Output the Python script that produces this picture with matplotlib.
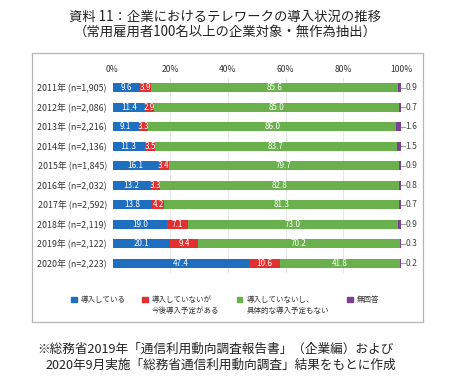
import matplotlib
matplotlib.use("Agg")
import matplotlib.pyplot as plt
from matplotlib.patches import Rectangle

plt.rcParams['font.family'] = ['Noto Sans CJK JP', 'DejaVu Sans']

years = ["2011年 (n=1,905)", "2012年 (n=2,086)", "2013年 (n=2,216)", "2014年 (n=2,136)",
         "2015年 (n=1,845)", "2016年 (n=2,032)", "2017年 (n=2,592)", "2018年 (n=2,119)",
         "2019年 (n=2,122)", "2020年 (n=2,223)"]
adopted = [9.6, 11.4, 9.1, 11.3, 16.1, 13.2, 13.8, 19.0, 20.1, 47.4]
planned = [3.9, 2.9, 3.3, 3.5, 3.4, 3.3, 4.2, 7.1, 9.4, 10.6]
no_plan = [85.6, 85.0, 86.0, 83.7, 79.7, 82.8, 81.3, 73.0, 70.2, 41.8]
no_answer = [0.9, 0.7, 1.6, 1.5, 0.9, 0.8, 0.7, 0.9, 0.3, 0.2]
series_names = ["導入している", "導入していないが\n今後導入予定がある",
                "導入していないし、\n具体的な導入予定もない", "無回答"]
colors = ["#1f6fc1", "#e0302f", "#6ab04c", "#7b3f98"]
ticks = [0, 20, 40, 60, 80, 100]

W, H = 450, 383
fig = plt.figure(figsize=(4.5, 3.83), dpi=100)

def fx(px):
    return px / W

def fy(py):
    return 1 - py / H

# title and source note
fig.text(0.5, fy(17), "資料 11：企業におけるテレワークの導入状況の推移",
         ha="center", va="center", fontsize=9.6, color="#222222")
fig.text(0.5, fy(32), "（常用雇用者100名以上の企業対象・無作為抽出）",
         ha="center", va="center", fontsize=9.6, color="#222222")
fig.text(fx(37), fy(349), "※総務省2019年「通信利用動向調査報告書」（企業編）および",
         ha="left", va="center", fontsize=9.1, color="#222222")
fig.text(fx(46), fy(365), "2020年9月実施「総務省通信利用動向調査」結果をもとに作成",
         ha="left", va="center", fontsize=9.1, color="#222222")

# outer frame
fig.patches.append(Rectangle((fx(31.5), fy(322)), (423 - 31.5) / W, (322 - 53) / H,
                             transform=fig.transFigure, fill=False, edgecolor="#b5b5b5", lw=0.9))

ax = fig.add_axes([fx(112.5), fy(273), (401 - 112.5) / W, 195 / H])
data = [adopted, planned, no_plan, no_answer]
ypos = list(range(len(years)))
left = [0] * len(years)
for i, vals in enumerate(data):
    ax.barh(ypos, vals, left=left, height=0.46, color=colors[i], zorder=2)
    if i < 3:
        for y, l, v in zip(ypos, left, vals):
            ax.text(l + v / 2, y, f"{v:.1f}", ha="center", va="center",
                    fontsize=5.8, color="white", zorder=3)
    left = [a + b for a, b in zip(left, vals)]

for y, v in zip(ypos, no_answer):
    ax.plot([100, 101.3], [y, y], color="#888888", lw=0.6, clip_on=False)
    ax.text(101.5, y, f"{v:.1f}", ha="left", va="center", fontsize=6.2, color="#444444")

ax.set_xlim(0, 100)
ax.set_ylim(len(years) - 0.5, -0.5)
ax.set_yticks(ypos)
ax.set_yticklabels(years, fontsize=6.4, color="#333333")
ax.set_xticks(ticks)
ax.set_xticklabels([f"{t}%" for t in ticks], fontsize=6.2, color="#333333")
ax.xaxis.tick_top()
ax.tick_params(length=0, pad=3)
ax.tick_params(axis="y", pad=4)
for t in ticks[1:-1]:
    ax.axvline(t, color="#e4e4e4", lw=0.6, zorder=0)
for s in ax.spines.values():
    s.set_visible(False)

# legend drawn by hand
leg_x = [71, 142, 237, 347]
for x, c, name in zip(leg_x, colors, series_names):
    fig.patches.append(Rectangle((fx(x), fy(302)), 5.5 / W, 5.5 / H,
                                 transform=fig.transFigure, color=c))
    fig.text(fx(x + 9.5), fy(296), name, ha="left", va="top", fontsize=5.4,
             color="#333333", linespacing=1.45)

fig.savefig("out.png", dpi=100)
